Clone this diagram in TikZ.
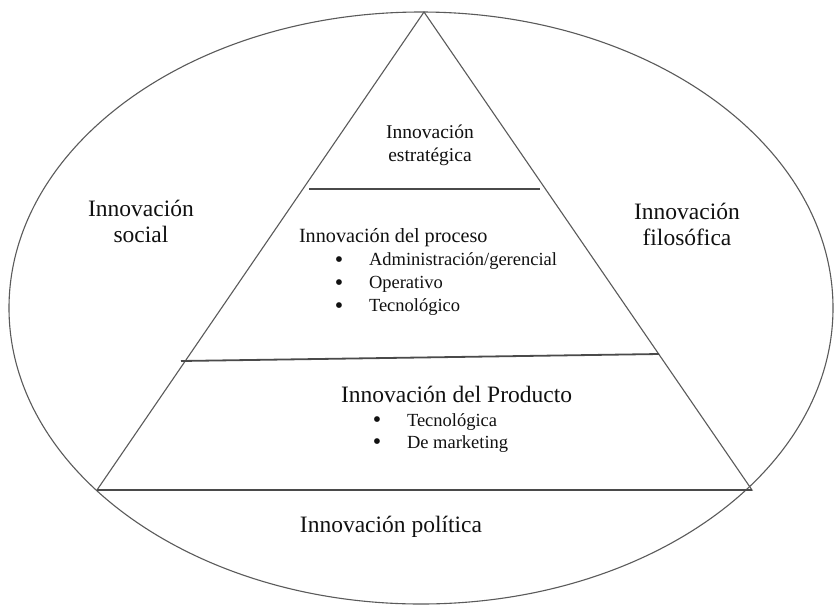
\documentclass[tikz,border=0pt]{standalone}
\usepackage{fontspec}
\setmainfont{Liberation Serif}
\definecolor{txt}{HTML}{111111}
\definecolor{edge}{HTML}{5A5A5A}
\definecolor{bar}{HTML}{4A4A4A}
\tikzset{
  lbl/.style={inner sep=0pt, outer sep=0pt, text=txt, anchor=base},
  big/.style={lbl, font=\fontsize{23.5}{26}\selectfont},
  mid/.style={lbl, font=\fontsize{20.2}{23}\selectfont},
  small/.style={lbl, font=\fontsize{18.5}{22}\selectfont},
  dot/.style={lbl, font=\fontsize{24}{26}\selectfont},
  top/.style={lbl, font=\fontsize{19.5}{23}\selectfont},
  outline/.style={draw=edge, line width=1.1pt},
  divider/.style={draw=bar, line width=1.8pt}
}
\begin{document}
\begin{tikzpicture}[x=1pt,y=-1pt]
\useasboundingbox (0,0) rectangle (835,606);
\fill[white] (0,0) rectangle (835,606);
% ellipse
\draw[outline] (421,308) ellipse [x radius=412, y radius=296];
% triangle
\coordinate (A) at (424,12);
\coordinate (BL) at (97,490);
\coordinate (BR) at (752,490);
\draw[outline, line join=miter] (A) -- (BL) -- (BR) -- cycle;
\draw[divider] (BL) -- (BR);
% dividers
\coordinate (d1l) at (309,189);
\coordinate (d1r) at (540,189);
\coordinate (d2l) at (181,361);
\coordinate (d2r) at (659,354);
\draw[divider] (d1l) -- (d1r);
\draw[divider] (d2l) -- (d2r);
% top
\node[top] (estr1) at (430,138.5) {Innovación};
\node[top] (estr2) at (430,161.5) {estratégica};
% sides
\node[big] (soc1) at (141,216.4) {Innovación};
\node[big] (soc2) at (141,242.4) {social};
\node[big] (fil1) at (687,219.4) {Innovación};
\node[big] (fil2) at (687,245.4) {filosófica};
% process
\node[mid, anchor=base west] (proc) at (299,242.6) {Innovación del proceso};
\node[dot] (pb1) at (339,267) {\textbullet};
\node[dot] (pb2) at (339,290) {\textbullet};
\node[dot] (pb3) at (339,313) {\textbullet};
\node[small, anchor=base west] (pi1) at (369,265.8) {Administración/gerencial};
\node[small, anchor=base west] (pi2) at (369,288.8) {Operativo};
\node[small, anchor=base west] (pi3) at (369,311.8) {Tecnológico};
% product
\node[big, anchor=base west] (prod) at (341,402.5) {Innovación del Producto};
\node[dot] (qb1) at (377,427.2) {\textbullet};
\node[dot] (qb2) at (377,449.2) {\textbullet};
\node[small, anchor=base west] (qi1) at (407,426) {Tecnológica};
\node[small, anchor=base west] (qi2) at (407,448) {De marketing};
% bottom
\node[big] (pol) at (391,532.4) {Innovación política};
\end{tikzpicture}
\end{document}
